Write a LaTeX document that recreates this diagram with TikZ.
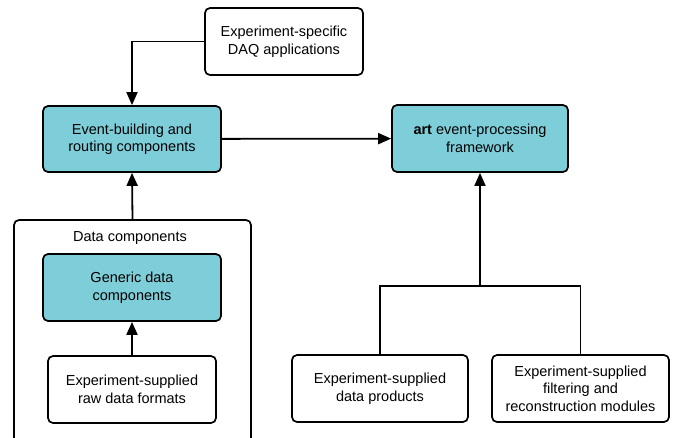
\documentclass[tikz,border=0pt]{standalone}
\usepackage{fontspec}
\setmainfont{Liberation Sans}
\usetikzlibrary{positioning,arrows.meta}

\definecolor{boxteal}{RGB}{126,206,218}

\begin{document}
\begin{tikzpicture}[x=1pt, y=-1pt,
	every node/.style={draw, rounded corners=5pt, line width=1.7pt, align=center, inner sep=2pt,
		font=\fontsize{14.5}{17.5}\selectfont},
	plainbox/.style={fill=white},
	tealbox/.style={fill=boxteal},
	link/.style={line width=1.8pt},
	arr/.style={link, -{Triangle[length=13pt, width=11pt]}}]
	\useasboundingbox (0,0) rectangle (675,437);
	% boxes
	\node[plainbox, minimum width=158, minimum height=67] (DAQ) at (284,41.5) {Experiment-specific\\DAQ applications};
	\node[tealbox, minimum width=178, minimum height=66] (EB) at (132,139) {Event-building and\\routing components};
	\node[tealbox, minimum width=176, minimum height=67] (ART) at (480,138.5) {\textbf{art} event-processing\\framework};
	\node[minimum width=237, minimum height=240] (DC) at (132.5,340) {};
	\node[draw=none, inner sep=0pt] (DClabel) at (130,238) {Data components};
	\node[tealbox, minimum width=178, minimum height=67] (GEN) at (132,287.5) {Generic data\\components};
	\node[plainbox, minimum width=168, minimum height=67] (RAW) at (132,389.5) {Experiment-supplied\\raw data formats};
	\node[plainbox, minimum width=176, minimum height=67] (PROD) at (380,388.5) {Experiment-supplied\\data products};
	\node[plainbox, minimum width=177, minimum height=67] (FILT) at (580.5,388.5) {Experiment-supplied\\filtering and\\reconstruction modules};
	\coordinate (fork) at (480,286);
	% connectors
	\draw[arr] (DAQ.west) -| (EB.north);
	\draw[arr] (EB) -- (ART);
	\draw[arr] (DC.north) -- (EB.south);
	\draw[arr] (RAW) -- (GEN);
	\draw[link] (PROD.north) |- (fork) -| (FILT.north);
	\draw[arr] (fork) -- (ART.south);
\end{tikzpicture}
\end{document}
